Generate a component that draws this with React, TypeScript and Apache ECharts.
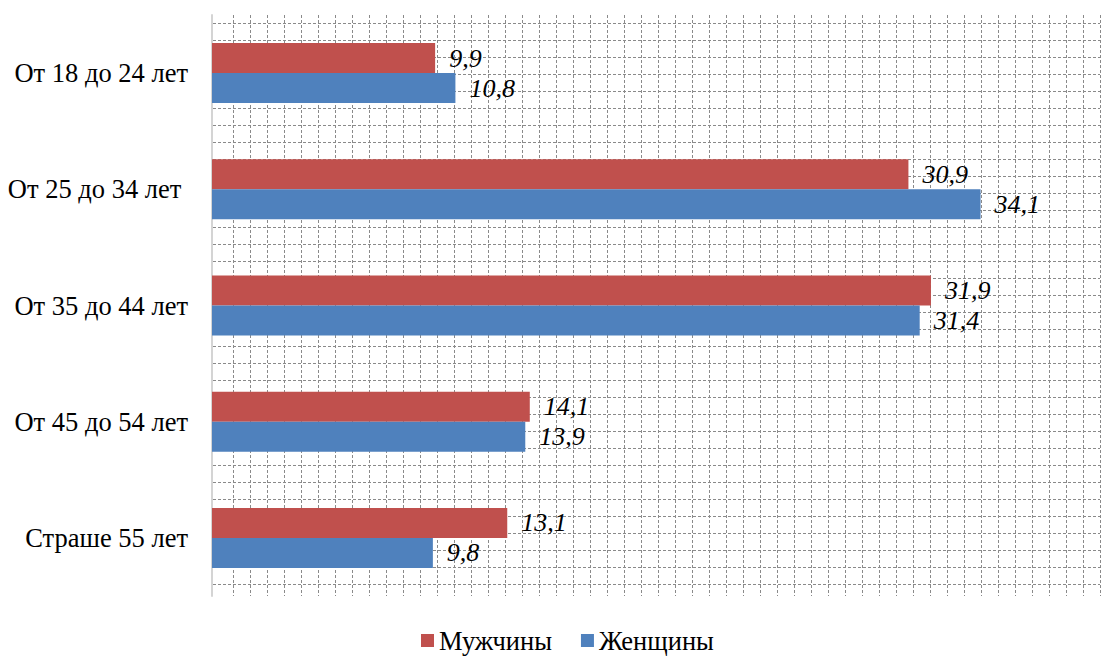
import React, { useEffect, useRef } from "react";
import * as echarts from "echarts";

const categories = ["От 18 до 24 лет", "От 25 до 34 лет ", "От 35 до 44 лет", "От 45 до 54 лет", "Страше 55 лет"];
const seriesNames = ["Мужчины", "Женщины"];
const menValues = [9.9, 30.9, 31.9, 14.1, 13.1];
const womenValues = [10.8, 34.1, 31.4, 13.9, 9.8];

const FONT = "Liberation Serif";

export default function App() {
  const ref = useRef<HTMLDivElement>(null);
  useEffect(() => {
    if (!ref.current) return;
    const chart = echarts.init(ref.current, undefined, { renderer: "svg" });
    const patternLine = { show: true, lineStyle: { color: "#8a8a8a", width: 1, type: [3, 2] as any } };
    const fmt = (p: any) => String(p.value).replace(".", ",");
    const label = {
      show: true,
      position: "right",
      distance: 14,
      formatter: fmt,
      fontFamily: FONT,
      fontStyle: "italic",
      fontSize: 26,
      color: "#000",
    };
    chart.setOption({
      animation: false,
      backgroundColor: "#fff",
      textStyle: { fontFamily: FONT },
      grid: [
        { left: 212, top: 15, width: 888, height: 581 },
        { left: 213, top: 23, width: 887, height: 561 },
        { left: 233, top: 15, width: 867, height: 581 },
      ],
      xAxis: [
        { gridIndex: 0, type: "value", min: 0, max: 39.4, show: false },
        { gridIndex: 1, type: "value", min: 0, max: 1, show: false },
        {
          gridIndex: 2,
          type: "value",
          min: 0,
          max: 51,
          interval: 1,
          axisLine: { show: false },
          axisTick: { show: false },
          axisLabel: { show: false },
          splitLine: patternLine,
        },
      ],
      yAxis: [
        {
          gridIndex: 0,
          type: "category",
          data: categories,
          inverse: true,
          axisLine: { show: true, lineStyle: { color: "#d4d4d4", width: 2 } },
          axisTick: { show: false },
          axisLabel: { fontFamily: FONT, fontSize: 26.5, color: "#000", margin: 24 },
          splitLine: { show: false },
          z: 3,
        },
        {
          gridIndex: 1,
          type: "value",
          min: 0,
          max: 33,
          interval: 1,
          axisLine: { show: false },
          axisTick: { show: false },
          axisLabel: { show: false },
          splitLine: patternLine,
        },
        { gridIndex: 2, type: "value", min: 0, max: 1, show: false },
      ],
      legend: {
        data: seriesNames,
        left: 421,
        top: 627,
        padding: 0,
        icon: "rect",
        itemWidth: 13,
        itemHeight: 13,
        itemGap: 29,
        textStyle: { fontFamily: FONT, fontSize: 26.5, color: "#000", padding: [0, 0, 0, 0] },
      },
      series: [
        {
          name: seriesNames[0],
          type: "bar",
          xAxisIndex: 0,
          yAxisIndex: 0,
          data: menValues,
          barWidth: 30,
          barGap: "0%",
          itemStyle: { color: "#C0504D" },
          label,
          z: 4,
        },
        {
          name: seriesNames[1],
          type: "bar",
          xAxisIndex: 0,
          yAxisIndex: 0,
          data: womenValues,
          barWidth: 30,
          barGap: "0%",
          itemStyle: { color: "#4F81BD" },
          label,
          z: 4,
        },
      ],
    });
    return () => chart.dispose();
  }, []);
  return (
    <div
      ref={ref}
      style={{ position: "fixed", left: 0, top: 0, width: 1102, height: 658, background: "#fff" }}
    />
  );
}
